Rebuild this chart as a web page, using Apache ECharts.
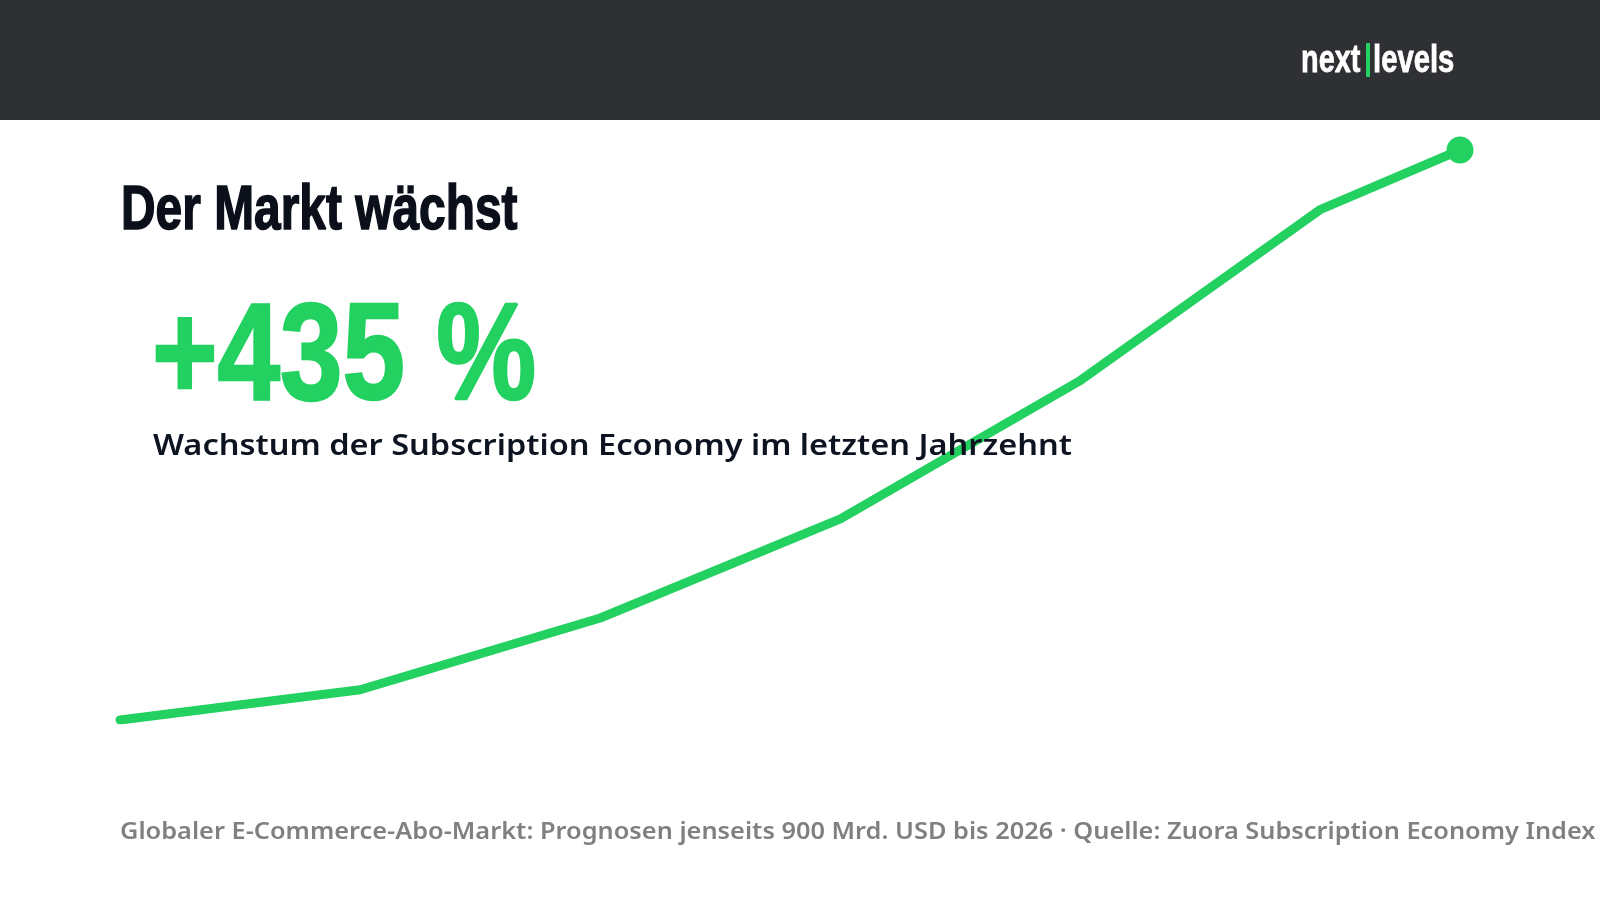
<!DOCTYPE html>
<html>
<head>
  <meta charset="utf-8">
  <title>Der Markt wächst</title>
  <script src="https://cdn.jsdelivr.net/npm/echarts@6/dist/echarts.min.js"></script>
  <style>
    html, body { margin: 0; padding: 0; background: #fff; }
    #main { width: 1600px; height: 900px; }
  </style>
</head>
<body>
  <div id="main"></div>
  <script type="text/javascript">
    // growth curve, x in steps, y as index (0 = start, 100 = today)
    var xSteps = [0, 1, 2, 3, 4, 5, 5.58];
    var growth = [0, 5.3, 17.9, 35.3, 59.6, 89.6, 100];

    var titleText = 'Der Markt wächst';
    var bigNumber = '+435 %';
    var subText = 'Wachstum der Subscription Economy im letzten Jahrzehnt';
    var footText = 'Globaler E-Commerce-Abo-Markt: Prognosen jenseits 900 Mrd. USD bis 2026 · Quelle: Zuora Subscription Economy Index';

    var green = '#22d160';
    var heavy = '"Liberation Sans", Arial, sans-serif';

    var points = xSteps.map(function (x, i) { return [x, growth[i]]; });
    var last = points.length - 1;

    var myChart = echarts.init(document.getElementById('main'));

    var option = {
      animation: false,
      grid: { left: 120, right: 140, top: 150, bottom: 180 },
      xAxis: { type: 'value', min: 0, max: 5.58, show: false },
      yAxis: { type: 'value', min: 0, max: 100, show: false },
      series: [{
        type: 'line',
        data: points,
        z: 2,
        symbol: 'circle',
        symbolSize: function (v, p) { return p.dataIndex === last ? 27 : 0; },
        showAllSymbol: true,
        itemStyle: { color: green },
        lineStyle: { color: green, width: 9, cap: 'round', join: 'round' }
      }],
      graphic: [
        { type: 'rect', left: 0, top: 0, z: 1, shape: { width: 1600, height: 120 }, style: { fill: '#2f3033' } },
        // logo
        { type: 'text', x: 1301, y: 61, z: 10, scaleX: 0.74,
          style: { text: 'next', fill: '#fff', stroke: '#fff', lineWidth: 0.8, font: 'bold 39px ' + heavy, textVerticalAlign: 'middle' } },
        { type: 'rect', z: 10, shape: { x: 1366, y: 43, width: 4, height: 34 }, style: { fill: green } },
        { type: 'text', x: 1373, y: 61, z: 10, scaleX: 0.75,
          style: { text: 'levels', fill: '#fff', stroke: '#fff', lineWidth: 0.8, font: 'bold 39px ' + heavy, textVerticalAlign: 'middle' } },
        // headline block
        { type: 'text', x: 121, y: 212, z: 10, scaleX: 0.76,
          style: { text: titleText, fill: '#0a0f1a', stroke: '#0a0f1a', lineWidth: 1.6, font: 'bold 63px ' + heavy, textVerticalAlign: 'middle' } },
        { type: 'text', x: 152, y: 361, z: 10, scaleX: 0.82,
          style: { text: bigNumber, fill: green, stroke: green, lineWidth: 2.5, font: 'bold 137px ' + heavy, textVerticalAlign: 'middle' } },
        { type: 'text', x: 153, y: 447, z: 10, scaleX: 1.122,
          style: { text: subText, fill: '#0d1321', font: '600 29px "Noto Sans", sans-serif', textVerticalAlign: 'middle' } },
        { type: 'text', x: 120, y: 832, z: 10, scaleX: 1.056,
          style: { text: footText, fill: '#808080', font: '600 24px "Noto Sans", sans-serif', textVerticalAlign: 'middle' } }
      ]
    };
    myChart.setOption(option);
  </script>
</body>
</html>
